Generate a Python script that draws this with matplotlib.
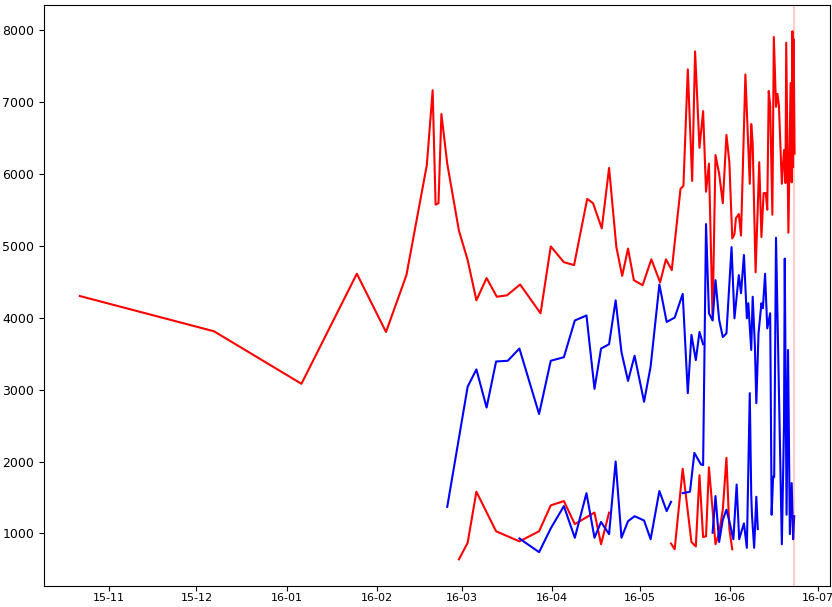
import numpy as np
import pandas as pd
import matplotlib
matplotlib.use('Agg')
import matplotlib.pyplot as plt
import matplotlib.dates as mdates

# upper red line
red_hi_dates = [
    '2015-10-22', '2015-12-07', '2016-01-06', '2016-01-25', '2016-02-04', '2016-02-11',
    '2016-02-18', '2016-02-20', '2016-02-21', '2016-02-22', '2016-02-23', '2016-02-25',
    '2016-02-29', '2016-03-03', '2016-03-06', '2016-03-09 12:00', '2016-03-13', '2016-03-16 12:00',
    '2016-03-21', '2016-03-28', '2016-03-31 12:00', '2016-04-05', '2016-04-08 12:00', '2016-04-13',
    '2016-04-15', '2016-04-18', '2016-04-20 12:00', '2016-04-23', '2016-04-25', '2016-04-27',
    '2016-04-29', '2016-05-02', '2016-05-05', '2016-05-08', '2016-05-10', '2016-05-12',
    '2016-05-15', '2016-05-16', '2016-05-17 12:00', '2016-05-19', '2016-05-20', '2016-05-21 12:00',
    '2016-05-22 18:00', '2016-05-23 18:00', '2016-05-24 18:00', '2016-05-26', '2016-05-27', '2016-05-28 06:00',
    '2016-05-29 12:00', '2016-05-30 18:00', '2016-05-31 18:00', '2016-06-01 18:00', '2016-06-02 12:00', '2016-06-03',
    '2016-06-04', '2016-06-04 18:00', '2016-06-06 06:00', '2016-06-07 18:00', '2016-06-08 06:00', '2016-06-08 18:00',
    '2016-06-09 18:00', '2016-06-11', '2016-06-11 18:00', '2016-06-12 12:00', '2016-06-13 06:00', '2016-06-13 18:00',
    '2016-06-14 06:00', '2016-06-14 18:00', '2016-06-15 12:00', '2016-06-16', '2016-06-16 18:00', '2016-06-17 06:00',
    '2016-06-17 18:00', '2016-06-18 18:00', '2016-06-19 12:00', '2016-06-20', '2016-06-20 06:00', '2016-06-21',
    '2016-06-21 18:00', '2016-06-22 03:00', '2016-06-22 09:00', '2016-06-22 14:00', '2016-06-22 19:00', '2016-06-23 03:00',
]
red_hi_vals = [
    4300, 3810, 3080, 4610, 3800, 4590,
    6120, 7160, 5570, 5590, 6830, 6140,
    5210, 4800, 4240, 4550, 4290, 4310,
    4460, 4060, 4990, 4770, 4730, 5650,
    5590, 5240, 6080, 4980, 4580, 4960,
    4520, 4450, 4810, 4490, 4810, 4660,
    5790, 5830, 7450, 5900, 7700, 6360,
    6870, 5750, 6140, 3970, 6260, 6000,
    5590, 6540, 6160, 5100, 5160, 5380,
    5440, 5140, 7380, 5860, 6690, 6420,
    4630, 6160, 5120, 5730, 5730, 5500,
    7150, 6950, 5430, 7900, 6930, 7110,
    6950, 5860, 6330, 5870, 7820, 5180,
    7260, 5880, 7980, 6090, 7870, 6280,
]

# upper blue line
blue_hi_dates = [
    '2016-02-25', '2016-03-03', '2016-03-06', '2016-03-09 12:00', '2016-03-12 18:00', '2016-03-16 18:00',
    '2016-03-20 18:00', '2016-03-27 12:00', '2016-03-31 12:00', '2016-04-05', '2016-04-08 18:00', '2016-04-12 18:00',
    '2016-04-15 12:00', '2016-04-17 18:00', '2016-04-20 12:00', '2016-04-22 18:00', '2016-04-24 18:00', '2016-04-27',
    '2016-04-29 06:00', '2016-05-02 12:00', '2016-05-04 18:00', '2016-05-07 18:00', '2016-05-10 06:00', '2016-05-13',
    '2016-05-15 18:00', '2016-05-17 12:00', '2016-05-18 18:00', '2016-05-20 06:00', '2016-05-21 12:00', '2016-05-22 18:00',
]
blue_hi_vals = [
    1370, 3040, 3280, 2750, 3390, 3400,
    3570, 2660, 3400, 3450, 3960, 4030,
    3010, 3570, 3630, 4240, 3520, 3120,
    3470, 2830, 3320, 4460, 3940, 4000,
    4330, 2950, 3760, 3410, 3800, 3630,
]

# lower red line (None = no data)
red_lo_dates = [
    '2016-02-29', '2016-03-03', '2016-03-06', '2016-03-12 18:00', '2016-03-20 18:00', '2016-03-27 12:00',
    '2016-03-31 12:00', '2016-04-05', '2016-04-08 18:00', '2016-04-15 12:00', '2016-04-17 18:00', '2016-04-20 12:00',
    '2016-05-01',
    '2016-05-11 18:00', '2016-05-13', '2016-05-15 18:00', '2016-05-18 18:00', '2016-05-20 06:00', '2016-05-21 12:00',
    '2016-05-22 18:00', '2016-05-23 18:00', '2016-05-24 18:00', '2016-05-27', '2016-05-28 06:00', '2016-05-29 12:00',
    '2016-05-30 18:00', '2016-05-31 18:00', '2016-06-01 18:00',
]
red_lo_vals = [
    640, 870, 1580, 1030, 890, 1030,
    1390, 1450, 1130, 1290, 850, 1290,
    None,
    860, 780, 1900, 880, 820, 1810,
    950, 960, 1920, 850, 1010, 1330,
    2050, 1060, 780,
]

# lower blue line, first part then the jump back up to the end
blue_lo_dates = [
    '2016-03-20 18:00', '2016-03-27 12:00', '2016-03-31 12:00', '2016-04-05', '2016-04-08 18:00', '2016-04-12 18:00',
    '2016-04-15 12:00', '2016-04-17 18:00', '2016-04-20 12:00', '2016-04-22 18:00', '2016-04-24 18:00', '2016-04-27',
    '2016-04-29 06:00', '2016-05-02 12:00', '2016-05-04 18:00', '2016-05-07 18:00', '2016-05-10 06:00', '2016-05-11 18:00',
    '2016-05-13 12:00',
    '2016-05-15 18:00', '2016-05-18 06:00', '2016-05-19 18:00', '2016-05-22', '2016-05-22 18:00', '2016-05-23 18:00',
    '2016-05-24 18:00', '2016-05-26', '2016-05-27', '2016-05-28 06:00', '2016-05-29 12:00', '2016-05-30 18:00',
    '2016-06-01 12:00', '2016-06-02 12:00', '2016-06-04', '2016-06-04 18:00', '2016-06-05 18:00', '2016-06-06 18:00',
    '2016-06-07 06:00', '2016-06-08 06:00', '2016-06-08 18:00', '2016-06-09 12:00', '2016-06-10', '2016-06-10 18:00',
    '2016-06-11 18:00', '2016-06-12 06:00', '2016-06-13', '2016-06-13 18:00', '2016-06-14 18:00', '2016-06-15 06:00',
    '2016-06-15 18:00', '2016-06-16 03:00', '2016-06-16 18:00', '2016-06-18 18:00', '2016-06-19 12:00', '2016-06-19 18:00',
    '2016-06-20 09:00', '2016-06-20 21:00', '2016-06-21 12:00', '2016-06-22 03:00', '2016-06-22 15:00', '2016-06-23',
]
blue_lo_vals = [
    930, 740, 1070, 1380, 940, 1560,
    940, 1160, 990, 2000, 940, 1170,
    1240, 1180, 920, 1590, 1310, 1440,
    None,
    1560, 1580, 2120, 1960, 1950, 5300,
    4060, 3960, 4520, 3970, 3730, 3780,
    4980, 3990, 4590, 4340, 4870, 3990,
    4200, 3550, 4290, 3620, 2810, 3780,
    4200, 4130, 4610, 3850, 4060, 1260,
    1790, 1780, 5110, 850, 2520, 4820,
    1260, 3550, 990, 1700, 920, 1240,
]

# short blue piece under the June spikes
blue_jun_dates = [
    '2016-05-26', '2016-05-27', '2016-05-28 06:00', '2016-05-29 12:00', '2016-05-30 18:00', '2016-05-31 18:00',
    '2016-06-02 03:00', '2016-06-03 06:00', '2016-06-04 03:00', '2016-06-05 18:00', '2016-06-06 18:00', '2016-06-07 18:00',
    '2016-06-08 06:00', '2016-06-08 12:00', '2016-06-09 06:00', '2016-06-10', '2016-06-10 12:00',
]
blue_jun_vals = [
    1010, 1520, 880, 1190, 1330, 1170,
    920, 1680, 920, 1140, 800, 2950,
    1540, 1260, 800, 1510, 1060,
]

marker_date = '2016-06-23'


def series(dates, vals):
    x = pd.to_datetime(dates, format='mixed')
    y = np.array([np.nan if v is None else v for v in vals], dtype=float)
    return x, y


fig, ax = plt.subplots(figsize=(8.32, 6.07), dpi=100)

ax.plot(*series(red_hi_dates, red_hi_vals), color='r', linewidth=1.5)
ax.plot(*series(blue_hi_dates, blue_hi_vals), color='b', linewidth=1.5)
ax.plot(*series(red_lo_dates, red_lo_vals), color='r', linewidth=1.5)
ax.plot(*series(blue_lo_dates, blue_lo_vals), color='b', linewidth=1.5)
ax.plot(*series(blue_jun_dates, blue_jun_vals), color='b', linewidth=1.5)

# today marker
ax.axvline(pd.Timestamp(marker_date), color='r', alpha=0.2, linewidth=1.5)

ax.xaxis.set_major_locator(mdates.MonthLocator())
ax.xaxis.set_major_formatter(mdates.DateFormatter('%y-%m'))
ax.tick_params(axis='x', labelsize=8, pad=2)
ax.tick_params(axis='y', labelsize=9)

plt.subplots_adjust(left=0.053, right=0.998, top=0.992, bottom=0.035)
plt.savefig('out.png', dpi=100)
